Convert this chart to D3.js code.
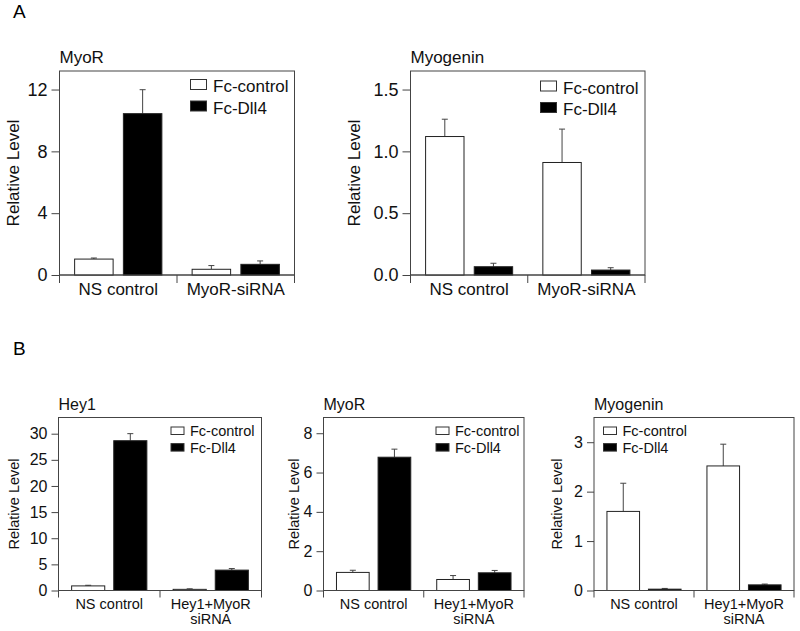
<!DOCTYPE html>
<html>
<head>
<meta charset="utf-8">
<script src="https://cdn.jsdelivr.net/npm/d3@7"></script>
<style>
  body { margin: 0; background: #fff; }
  svg { font-family: "Liberation Sans", Arial, Helvetica, sans-serif; }
</style>
</head>
<body>
<svg width="800" height="631"></svg>
<script>
var width = 800, height = 631;

// series + groups
var series = ["Fc-control", "Fc-Dll4"];
var groupsA = [["NS control"], ["MyoR-siRNA"]];
var groupsB = [["NS control"], ["Hey1+MyoR", "siRNA"]];

// A: MyoR
var a1Ctrl = [1.03, 0.37], a1CtrlErr = [0.07, 0.24];
var a1Dll4 = [10.44, 0.69], a1Dll4Err = [1.55, 0.22];
var a1Ticks = [0, 4, 8, 12];
// A: Myogenin
var a2Ctrl = [1.12, 0.91], a2CtrlErr = [0.14, 0.27];
var a2Dll4 = [0.067, 0.04], a2Dll4Err = [0.028, 0.019];
var a2Ticks = [0, 0.5, 1.0, 1.5];
// B: Hey1
var b1Ctrl = [0.88, 0.22], b1CtrlErr = [0.12, 0.1];
var b1Dll4 = [28.66, 3.9], b1Dll4Err = [1.35, 0.3];
var b1Ticks = [0, 5, 10, 15, 20, 25, 30];
// B: MyoR
var b2Ctrl = [0.92, 0.56], b2CtrlErr = [0.11, 0.2];
var b2Dll4 = [6.78, 0.9], b2Dll4Err = [0.41, 0.12];
var b2Ticks = [0, 2, 4, 6, 8];
// B: Myogenin
var b3Ctrl = [1.6, 2.52], b3CtrlErr = [0.57, 0.44];
var b3Dll4 = [0.027, 0.114], b3Dll4Err = [0.015, 0.016];
var b3Ticks = [0, 1, 2, 3];

var svg = d3.select("svg").attr("viewBox", [0, 0, width, height]);
var lineColor = "#444";

svg.append("text").attr("x", 13).attr("y", 18).attr("font-size", 19).text("A");
svg.append("text").attr("x", 13).attr("y", 355).attr("font-size", 19).text("B");

// big = panel A style, small = panel B style
function drawPanel(p) {
    var big = p.big;
    var fs = big ? 17 : 14.5;
    var g = svg.append("g");

    var y = d3.scaleLinear().domain([0, p.ymax]).range([p.bottom, p.top]);
    var x0 = d3.scaleBand().domain(p.groups.map((d, i) => i))
        .range([p.left, p.right]).paddingInner(0).paddingOuter(0);
    var x1 = d3.scaleBand().domain(series).range([0, x0.bandwidth()])
        .paddingInner(0.19).paddingOuter(0.3);

    var rows = p.groups.map((grp, i) => [
        {s: series[0], v: p.ctrl[i], e: p.ctrlErr[i], i: i},
        {s: series[1], v: p.dll4[i], e: p.dll4Err[i], i: i}
    ]).flat();

    // frame
    g.append("rect")
        .attr("x", p.left).attr("y", p.top)
        .attr("width", p.right - p.left).attr("height", p.bottom - p.top)
        .attr("fill", "none").attr("stroke", lineColor).attr("stroke-width", 1);

    // error bars
    var cap = 3;
    rows.forEach(d => {
        var cx = x0(d.i) + x1(d.s) + x1.bandwidth() / 2;
        g.append("line").attr("x1", cx).attr("x2", cx)
            .attr("y1", y(d.v)).attr("y2", y(d.v + d.e))
            .attr("stroke", lineColor).attr("stroke-width", 1);
        g.append("line").attr("x1", cx - cap).attr("x2", cx + cap)
            .attr("y1", y(d.v + d.e)).attr("y2", y(d.v + d.e))
            .attr("stroke", lineColor).attr("stroke-width", 1);
    });

    // bars
    g.selectAll("rect.bar").data(rows).join("rect")
        .attr("class", "bar")
        .attr("x", d => x0(d.i) + x1(d.s) + 0.5)
        .attr("y", d => y(d.v))
        .attr("width", x1.bandwidth() - 1)
        .attr("height", d => y(0) - y(d.v))
        .attr("fill", d => d.s === series[0] ? "#fff" : "#000")
        .attr("stroke", "#222").attr("stroke-width", 1);

    // y axis
    var yAxis = g.append("g")
        .attr("transform", `translate(${p.left},0)`)
        .call(d3.axisLeft(y).tickValues(p.ticks).tickFormat(d3.format(p.fmt))
            .tickSize(big ? 8 : 7).tickPadding(4));
    yAxis.select(".domain").remove();
    yAxis.selectAll(".tick line").attr("stroke", lineColor);
    yAxis.selectAll(".tick text").attr("font-size", big ? 18 : 16)
        .attr("font-family", "Liberation Sans, Arial, sans-serif").attr("fill", "#111");

    // x axis baseline + group ticks
    var tickLen = big ? 8 : 7;
    g.append("line").attr("x1", p.left).attr("x2", p.right)
        .attr("y1", p.bottom).attr("y2", p.bottom)
        .attr("stroke", lineColor);
    var bounds = p.groups.map((d, i) => x0(i)).concat([p.right]);
    g.selectAll("line.xt").data(bounds).join("line")
        .attr("class", "xt")
        .attr("x1", d => d).attr("x2", d => d)
        .attr("y1", p.bottom).attr("y2", p.bottom + tickLen)
        .attr("stroke", lineColor);
    p.groups.forEach((lines, i) => {
        var t = g.append("text")
            .attr("x", x0(i) + x0.bandwidth() / 2)
            .attr("y", p.bottom + (big ? 20 : 18))
            .attr("text-anchor", "middle").attr("font-size", fs).attr("fill", "#111");
        lines.forEach((ln, k) => {
            t.append("tspan").attr("x", x0(i) + x0.bandwidth() / 2)
                .attr("dy", k === 0 ? 0 : 15).text(ln);
        });
    });

    // y label
    var cy = (p.top + p.bottom) / 2;
    g.append("text")
        .attr("transform", `translate(${p.left - p.ylabOff},${cy}) rotate(-90)`)
        .attr("text-anchor", "middle").attr("font-size", fs).attr("fill", "#111")
        .text("Relative Level");

    // title
    g.append("text").attr("x", p.left).attr("y", p.top - 8)
        .attr("font-size", big ? 17 : 16).attr("fill", "#111").text(p.title);

    // legend
    var sw = big ? 16 : 13, sh = big ? 10 : 7.5, rowH = big ? 21.5 : 16.6;
    series.forEach((s, k) => {
        var lx = p.left + p.legX, ly = p.top + p.legY + k * rowH;
        g.append("rect").attr("x", lx).attr("y", ly)
            .attr("width", sw).attr("height", sh)
            .attr("fill", k === 0 ? "#fff" : "#000")
            .attr("stroke", "#333").attr("stroke-width", 1);
        g.append("text").attr("x", lx + sw + (big ? 6.5 : 6))
            .attr("y", ly + sh + (big ? 2.5 : 1.5))
            .attr("font-size", fs).attr("fill", "#111").text(s);
    });
}

drawPanel({big: true, title: "MyoR", left: 59.5, right: 294.5, top: 71, bottom: 275,
    ymax: 13.2, ticks: a1Ticks, fmt: "d", groups: groupsA,
    ctrl: a1Ctrl, ctrlErr: a1CtrlErr, dll4: a1Dll4, dll4Err: a1Dll4Err,
    ylabOff: 41, legX: 131, legY: 8.5});
drawPanel({big: true, title: "Myogenin", left: 410.5, right: 645, top: 71, bottom: 275,
    ymax: 1.65, ticks: a2Ticks, fmt: ".1f", groups: groupsA,
    ctrl: a2Ctrl, ctrlErr: a2CtrlErr, dll4: a2Dll4, dll4Err: a2Dll4Err,
    ylabOff: 50.5, legX: 130, legY: 10});
drawPanel({big: false, title: "Hey1", left: 58.5, right: 261.5, top: 417.5, bottom: 590.5,
    ymax: 33.1, ticks: b1Ticks, fmt: "d", groups: groupsB,
    ctrl: b1Ctrl, ctrlErr: b1CtrlErr, dll4: b1Dll4, dll4Err: b1Dll4Err,
    ylabOff: 40, legX: 112.5, legY: 9.5});
drawPanel({big: false, title: "MyoR", left: 323.5, right: 524, top: 417.5, bottom: 590.5,
    ymax: 8.8, ticks: b2Ticks, fmt: "d", groups: groupsB,
    ctrl: b2Ctrl, ctrlErr: b2CtrlErr, dll4: b2Dll4, dll4Err: b2Dll4Err,
    ylabOff: 25, legX: 112.5, legY: 9.5});
drawPanel({big: false, title: "Myogenin", left: 594, right: 794, top: 417.5, bottom: 590.5,
    ymax: 3.5, ticks: b3Ticks, fmt: "d", groups: groupsB,
    ctrl: b3Ctrl, ctrlErr: b3CtrlErr, dll4: b3Dll4, dll4Err: b3Dll4Err,
    ylabOff: 32.5, legX: 9.5, legY: 9.5});
</script>
</body>
</html>
